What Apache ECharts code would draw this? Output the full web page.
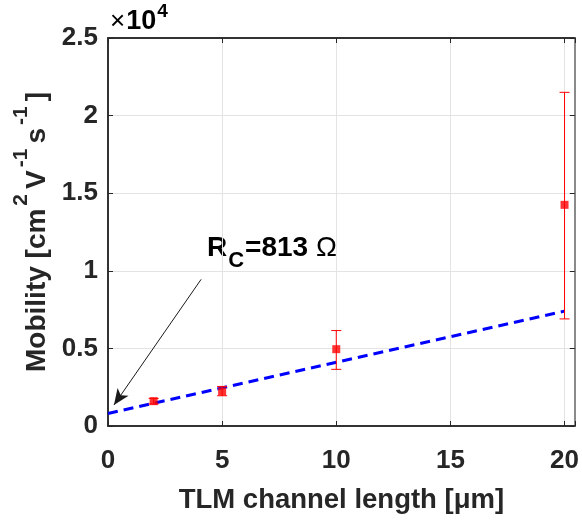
<!DOCTYPE html>
<html>
<head>
<meta charset="utf-8">
<script src="https://cdn.jsdelivr.net/npm/echarts@6/dist/echarts.min.js"></script>
<style>
  html, body { margin: 0; padding: 0; background: #fff; }
  #chart { width: 582px; height: 520px; }
</style>
</head>
<body>
<div id="chart"></div>
<script>
// channel lengths [um]
const lengths = [2, 5, 10, 20]
// mobility values
const mobility = [1600, 2230, 4950, 14250]
const errLow = [1420, 1950, 3650, 6900]
const errHigh = [1780, 2550, 6150, 21500]
// linear fit
const fitX = [0, 20]
const fitY = [810, 7400]
// arrow of the annotation, data coords
const arrowFrom = [4.08, 9450]
const arrowTo = [0.26, 1350]
const xTicks = [0, 5, 10, 15, 20]

const font = "'Liberation Sans', Arial, sans-serif"
const dark = "#262626"
const chart = echarts.init(document.getElementById("chart"))

const titleRich = {
  t: { fontSize: 28, fontWeight: "bold", color: dark, fontFamily: font, verticalAlign: "bottom" },
  s: { fontSize: 21, fontWeight: "bold", color: dark, fontFamily: font, verticalAlign: "top", padding: [0, 5, 19, 3] }
}
const gridLine = { show: true, showMinLine: false, showMaxLine: false, lineStyle: { color: "#e3e3e3", width: 1 } }
const tick = { show: true, inside: true, length: 5, lineStyle: { color: dark } }

const option = {
  backgroundColor: "#fff",
  animation: false,
  textStyle: { fontFamily: font },
  grid: {
    left: 108, right: 5, top: 38, bottom: 94, containLabel: false,
    show: true, borderColor: dark, borderWidth: 1.5, backgroundColor: "transparent"
  },
  xAxis: [
    {
      type: "value",
      position: "bottom",
      min: 0,
      max: 20.45,
      interval: 5,
      name: "TLM channel length [μm]",
      nameLocation: "middle",
      nameGap: 60,
      nameTextStyle: { fontSize: 27.5, fontWeight: "bold", color: dark, fontFamily: font },
      axisLine: { show: true, onZero: false, lineStyle: { color: dark, width: 1.5 } },
      axisTick: tick,
      axisLabel: {
        margin: 22,
        fontSize: 26,
        fontWeight: "bold",
        color: dark,
        fontFamily: font,
        formatter: (v) => (xTicks.includes(v) ? String(v) : "")
      },
      splitLine: gridLine
    },
    {
      type: "value",
      position: "top",
      min: 0,
      max: 20.45,
      interval: 5,
      axisLine: { show: true, onZero: false, lineStyle: { color: dark, width: 1.5 } },
      axisTick: tick,
      axisLabel: { show: false },
      splitLine: { show: false }
    }
  ],
  yAxis: [
    {
      type: "value",
      position: "left",
      min: 0,
      max: 25000,
      interval: 5000,
      name: "{t|Mobility [cm}{s|2}{t|V}{s|-1}{t|s}{s|-1}{t|]}",
      nameLocation: "middle",
      nameGap: 56,
      nameTextStyle: { rich: titleRich },
      axisLine: { show: true, onZero: false, lineStyle: { color: dark, width: 1.5 } },
      axisTick: tick,
      axisLabel: {
        margin: 10,
        fontSize: 26,
        fontWeight: "bold",
        color: dark,
        fontFamily: font,
        formatter: (v) => String(v / 10000)
      },
      splitLine: gridLine
    },
    {
      type: "value",
      position: "right",
      min: 0,
      max: 25000,
      interval: 5000,
      axisLine: { show: true, onZero: false, lineStyle: { color: "#8a8a8a", width: 2 } },
      axisTick: tick,
      axisLabel: { show: false },
      splitLine: { show: false }
    }
  ],
  graphic: [
    {
      type: "text",
      left: 110,
      top: 2,
      style: {
        text: "{x|×}{b|10}{s|4}",
        rich: {
          x: { fontSize: 26, color: dark, fontFamily: font, verticalAlign: "bottom", padding: [0, 1, 0, 0] },
          b: { fontSize: 27, fontWeight: "bold", color: dark, fontFamily: font, verticalAlign: "bottom" },
          s: { fontSize: 19, fontWeight: "bold", color: dark, fontFamily: font, verticalAlign: "top", padding: [0, 0, 14, 1] }
        }
      }
    },
    {
      type: "text",
      left: 207,
      top: 234,
      style: {
        text: "{r|R}{c|C}{r|=813 }{o|Ω}",
        rich: {
          r: { fontSize: 28, fontWeight: "bold", color: "#000", fontFamily: font, verticalAlign: "top" },
          c: { fontSize: 22, fontWeight: "bold", color: "#000", fontFamily: font, verticalAlign: "bottom", padding: [16, 1, 0, 1] },
          o: { fontSize: 28, fontWeight: "normal", color: "#000", fontFamily: font, verticalAlign: "top" }
        }
      }
    }
  ],
  series: [
    {
      type: "line",
      data: fitX.map((x, i) => [x, fitY[i]]),
      symbol: "none",
      lineStyle: { color: "#0000ff", width: 3, type: [10, 6] },
      z: 3,
      markLine: {
        silent: true,
        symbol: ["none", "arrow"],
        symbolSize: [10, 16],
        label: { show: false },
        lineStyle: { color: "#1a1a1a", width: 1, type: "solid" },
        data: [[{ coord: arrowFrom }, { coord: arrowTo }]]
      }
    },
    {
      type: "custom",
      data: lengths.map((x, i) => [x, errLow[i], errHigh[i]]),
      z: 4,
      renderItem: (params, api) => {
        const lo = api.coord([api.value(0), api.value(1)])
        const hi = api.coord([api.value(0), api.value(2)])
        const cap = 5
        const style = { stroke: "#ff0000", lineWidth: 1 }
        return {
          type: "group",
          children: [
            { type: "line", shape: { x1: lo[0], y1: lo[1], x2: hi[0], y2: hi[1] }, style },
            { type: "line", shape: { x1: lo[0] - cap, y1: lo[1], x2: lo[0] + cap, y2: lo[1] }, style },
            { type: "line", shape: { x1: hi[0] - cap, y1: hi[1], x2: hi[0] + cap, y2: hi[1] }, style }
          ]
        }
      }
    },
    {
      type: "scatter",
      data: lengths.map((x, i) => [x, mobility[i]]),
      symbol: "rect",
      symbolSize: 8,
      itemStyle: { color: "#ff0000" },
      z: 5
    }
  ]
}
chart.setOption(option)
</script>
</body>
</html>
